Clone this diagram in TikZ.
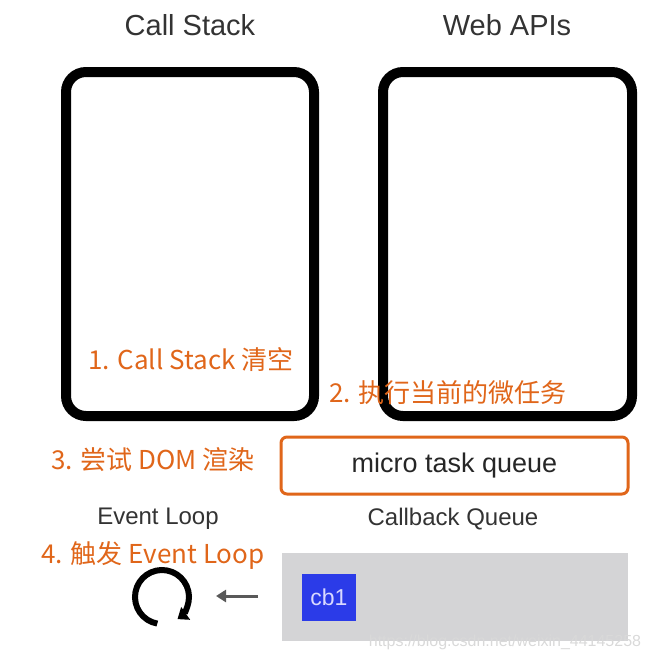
\documentclass[tikz,border=0pt]{standalone}
\usepackage{fontspec}
\setmainfont{Liberation Sans}
\newfontfamily\cjk{Noto Sans CJK SC}
\usetikzlibrary{arrows.meta, positioning, calc}

\definecolor{tipOrange}{HTML}{E0661A}
\definecolor{queueGray}{HTML}{D4D4D6}
\definecolor{cbBlue}{HTML}{2B3BE8}
\definecolor{titleGray}{HTML}{333333}

\begin{document}
\begin{tikzpicture}[
    x=1pt, y=-1pt,
    panel/.style={
        draw=black, line width=10pt, rounded corners=20pt},
    title/.style={
        font=\fontsize{29}{33}\selectfont, text=titleGray},
    tip/.style={
        font=\fontsize{26}{30}\selectfont\cjk, text=tipOrange},
    sub/.style={
        font=\fontsize{24}{28}\selectfont, text=titleGray},
    arr/.style={-{Triangle[length=10pt,width=12pt]}, line width=3pt, color=black!65}]

\useasboundingbox (0,0) rectangle (649,662);

% Two panels and their titles
\draw[panel] (66,72) rectangle (314,416);
\draw[panel] (383,72) rectangle (632,416);
\node[title] (stackT) at (190,25) {Call Stack};
\node[title] (apisT)  at (507,25) {Web APIs};

% Numbered steps
\node[tip] (step1) at (191,360) {1. Call Stack 清空};
\node[tip] (step2) at (448,393) {2. 执行当前的微任务};
\node[tip] (step3) at (153,460) {3. 尝试 DOM 渲染};
\node[tip] (step4) at (153,555) {4. 触发 Event Loop};

% Micro task queue
\node[draw=tipOrange, line width=3pt, rounded corners=6pt,
      minimum width=347pt, minimum height=57pt,
      font=\fontsize{27}{31}\selectfont, text=black!85] (micro) at (454.5,465.5) {micro task queue};

\node[sub] (loopT)  at (158,519) {Event Loop};
\node[sub] (queueT) at (453,519) {Callback Queue};

% Callback queue
\node[fill=queueGray, minimum width=346pt, minimum height=88pt] (queue) at (455,597) {};
\node[fill=cbBlue, minimum width=54pt, minimum height=47pt,
      font=\fontsize{23}{27}\selectfont, text=white!85!blue] (cb) at (329,597.5) {cb1};
\coordinate (arrS) at (258,596);
\coordinate (arrE) at (216,596);
\draw[arr] (arrS) -- (arrE);

% Loop icon
\node[circle, minimum size=54pt] (loop) at (162,597) {};
\draw[line width=6pt, -{Triangle[length=10pt,width=15pt]}]
    ($(loop)+(100:27)$) arc[start angle=100, end angle=415, radius=27];

\node[font=\fontsize{16}{18}\selectfont, text=black!15] (mark) at (505,642) {https://blog.csdn.net/weixin\_44145258};

\end{tikzpicture}
\end{document}
